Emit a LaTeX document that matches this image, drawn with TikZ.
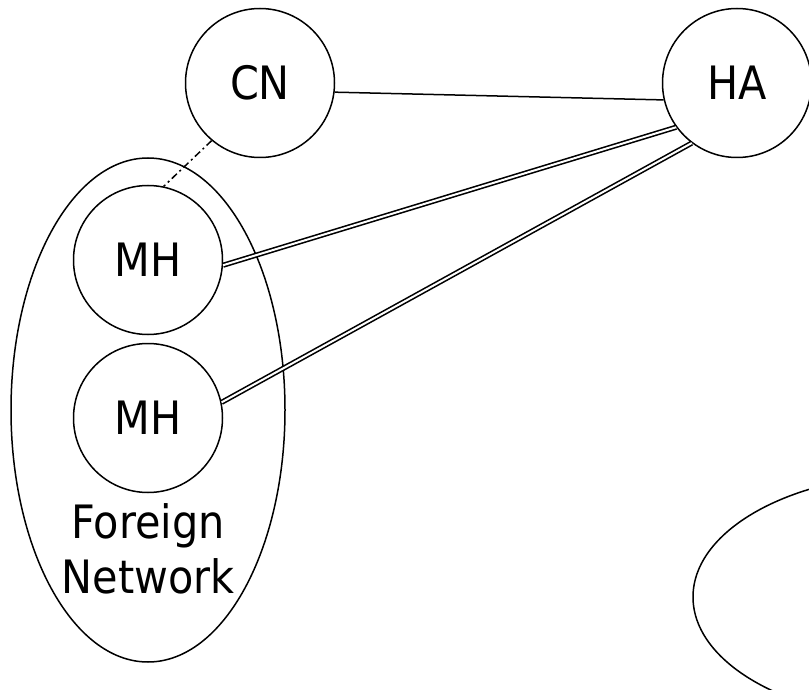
\documentclass[tikz,border=0pt]{standalone}
\usepackage{fontspec}
\setmainfont{DejaVu Sans Condensed}
\begin{document}
\begin{tikzpicture}[x=1pt,y=-1pt,
  hostnode/.style={circle,draw,line width=1.5pt,minimum size=149pt,inner sep=0pt,font=\fontsize{46}{55}\selectfont},
  netarea/.style={draw,line width=1.5pt},
  link/.style={draw,line width=1.5pt},
  tunnel/.style={draw,line width=1.6pt,double,double distance=2pt},
  dashdot/.style={draw,line width=1.5pt,dash pattern=on 7pt off 3.5pt on 2pt off 3.5pt}]
\useasboundingbox (0,0) rectangle (809,690);
% foreign network
\draw[netarea] (148,410) ellipse [x radius=137, y radius=252];
% partial network at bottom right
\begin{scope}
\clip (0,0) rectangle (809,690);
\draw[netarea] (918,597) ellipse [x radius=225, y radius=123];
\end{scope}
\node[hostnode] (CN) at (260,83) {CN};
\node[hostnode] (HA) at (737,83) {HA};
\node[hostnode] (MH1) at (148,260) {MH};
\node[hostnode] (MH2) at (148,418) {MH};
\node[align=center,font=\fontsize{46}{55}\selectfont,inner sep=0pt] (FN) at (148,549) {Foreign\\Network};
\draw[link] (CN.-7) -- (HA.193);
\draw[dashdot] (CN.230) -- (MH1.78);
\draw[tunnel] (MH1.-4) -- (HA.216);
\draw[tunnel] (MH2.12) -- (HA.233);
\end{tikzpicture}
\end{document}
